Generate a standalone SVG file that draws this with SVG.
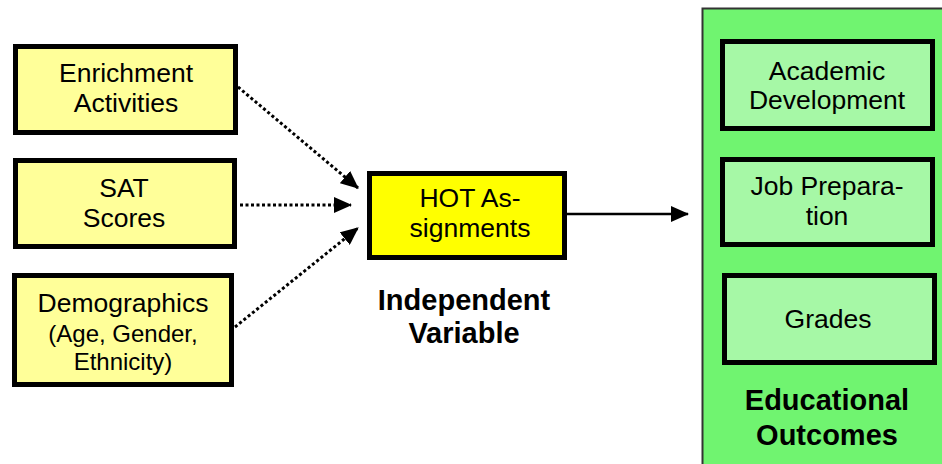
<svg xmlns="http://www.w3.org/2000/svg" width="942" height="464" viewBox="0 0 942 464">
  <defs>
    <marker id="head" markerUnits="userSpaceOnUse" markerWidth="18" markerHeight="16" refX="17" refY="8" orient="auto">
      <path d="M0,0 L18,8 L0,16 Z" fill="#000"/>
    </marker>
    <style>
      .box { stroke: #000; stroke-width: 5; }
      .pale { fill: #FFFF99; }
      .hot { fill: #FFFF00; }
      .outcome { fill: #A6F8A6; }
      .t { font-family: "Liberation Sans", Arial, sans-serif; font-size: 26.5px; fill: #000; text-anchor: middle; }
      .s { font-size: 24px; }
      .b { font-weight: bold; font-size: 29px; }
      .dot { fill: none; stroke: #000; stroke-width: 3; stroke-dasharray: 3 2.5; }
      .solid { fill: none; stroke: #000; stroke-width: 2.5; }
    </style>
  </defs>
  <rect width="942" height="464" fill="#FFFFFF"/>

  <!-- outcomes panel -->
  <g id="outcomes-panel">
    <rect x="702.5" y="8.5" width="250" height="470" fill="#70F470" stroke="#333" stroke-width="2"/>
    <text class="t b" x="827" y="410">Educational</text>
    <text class="t b" x="827" y="445">Outcomes</text>
  </g>

  <g id="enrichment">
    <rect class="box pale" x="15.5" y="46.5" width="220" height="86"/>
    <text class="t" x="126" y="82">Enrichment</text>
    <text class="t" x="126" y="112">Activities</text>
  </g>

  <g id="sat">
    <rect class="box pale" x="15.5" y="160.5" width="219" height="86"/>
    <text class="t" x="124" y="197">SAT</text>
    <text class="t" x="124" y="227">Scores</text>
  </g>

  <g id="demographics">
    <rect class="box pale" x="14.5" y="275.5" width="217" height="109"/>
    <text class="t" x="123" y="312">Demographics</text>
    <text class="t s" x="123" y="342">(Age, Gender,</text>
    <text class="t s" x="123" y="370">Ethnicity)</text>
  </g>

  <g id="hot">
    <rect class="box hot" x="369.5" y="173.5" width="195" height="84"/>
    <text class="t" x="470" y="207">HOT As-</text>
    <text class="t" x="470" y="237">signments</text>
  </g>

  <g id="independent-label">
    <text class="t b" x="464" y="310">Independent</text>
    <text class="t b" x="464" y="343">Variable</text>
  </g>

  <g id="academic">
    <rect class="box outcome" x="722.5" y="41.5" width="210" height="87"/>
    <text class="t" x="827" y="80">Academic</text>
    <text class="t" x="827" y="109">Development</text>
  </g>

  <g id="job">
    <rect class="box outcome" x="722.5" y="159.5" width="210" height="85"/>
    <text class="t" x="827" y="195">Job Prepara-</text>
    <text class="t" x="827" y="225">tion</text>
  </g>

  <g id="grades">
    <rect class="box outcome" x="724.5" y="275.5" width="210" height="87"/>
    <text class="t" x="828" y="328">Grades</text>
  </g>

  <g id="connectors">
    <line class="dot" x1="238" y1="87" x2="358" y2="188" marker-end="url(#head)"/>
    <line class="dot" x1="240" y1="205" x2="351" y2="205" marker-end="url(#head)"/>
    <line class="dot" x1="235" y1="327" x2="358" y2="228" marker-end="url(#head)"/>
    <line class="solid" x1="567" y1="214" x2="688" y2="214" marker-end="url(#head)"/>
  </g>
</svg>
